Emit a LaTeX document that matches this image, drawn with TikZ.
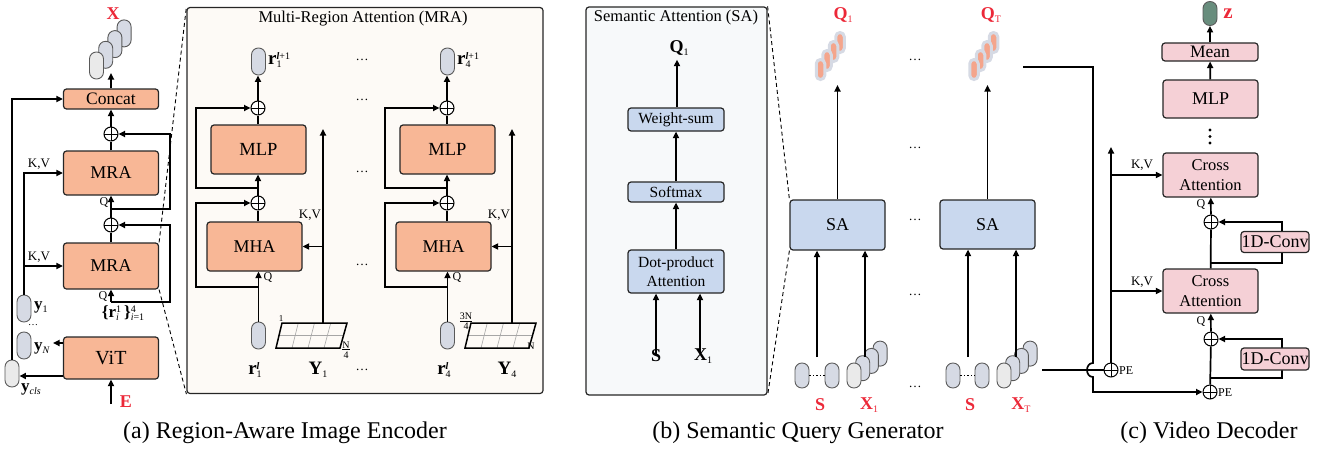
\documentclass[tikz,border=0pt]{standalone}
\usepackage{fontspec}
\setmainfont{Liberation Serif}
\usetikzlibrary{arrows.meta,calc}
\definecolor{salmon}{RGB}{248,183,150}
\definecolor{mrabg}{RGB}{253,250,246}
\definecolor{sabg}{RGB}{247,249,250}
\definecolor{lblue}{RGB}{201,216,238}
\definecolor{pinkc}{RGB}{245,208,214}
\definecolor{capg}{RGB}{214,218,228}
\definecolor{capl}{RGB}{234,234,234}
\definecolor{qor}{RGB}{244,165,140}
\definecolor{glow}{RGB}{214,218,228}
\definecolor{zgreen}{RGB}{104,141,125}
\definecolor{redl}{RGB}{236,40,56}
\newcommand{\fsz}[1]{\fontsize{#1}{#1}\selectfont}
\newcommand{\ssb}[2]{{\fontsize{10}{10}\selectfont\ooalign{\raisebox{5.5pt}{#1}\cr\raisebox{-3pt}{#2}\cr}}}
\begin{document}
\begin{tikzpicture}[x=1pt,y=-1pt,
 conn/.style={line width=1.7pt},
 arr/.style={line width=1.7pt,-{Triangle[length=6.5pt,width=6pt]}},
 boxbase/.style={draw=black!85,line width=1.2pt,rounded corners=3pt,inner sep=0pt,align=center},
 sbox/.style={boxbase,fill=salmon},
 bbox/.style={boxbase,fill=lblue},
 pbox/.style={boxbase,fill=pinkc},
 oplus/.style={circle,draw,line width=1pt,fill=white,minimum size=14pt,inner sep=0pt,
   path picture={\draw[line width=1pt] (path picture bounding box.north)--(path picture bounding box.south) (path picture bounding box.west)--(path picture bounding box.east);}},
 capsule/.style={draw=black!65,line width=0.9pt,fill=capg,minimum width=14pt,minimum height=27pt,rounded corners=6.9pt,inner sep=0pt},
 scap/.style={capsule,minimum width=14pt,minimum height=25pt,rounded corners=6.9pt},
 qcap/.style={draw=glow,line width=3pt,fill=qor,minimum width=8.5pt,minimum height=20pt,rounded corners=4.2pt,inner sep=0pt},
 redlab/.style={text=redl,font=\bfseries\fsz{18},inner sep=0pt},
 lab/.style={inner sep=0pt},
 dashl/.style={line width=0.9pt,dash pattern=on 4pt off 3pt},
 bigbox/.style={draw=black!85,line width=1.2pt,rounded corners=3pt,inner sep=0pt}
]
\useasboundingbox (0,0) rectangle (1320,450);

%================ (a) =================
\node[bigbox,fill=mrabg,minimum width=356pt,minimum height=386pt] (mrabox) at (365,200.5) {};
\node[lab,font=\fsz{16.5}] (mratitle) at (363,19) {Multi-Region Attention (MRA)};

% X stack
\foreach \i in {3,2,1}{\node[capsule] (xs\i) at ({96.5+9.2*\i},{65.5-10.7*\i}) {};}
\node[capsule,fill=capl] (xs0) at (96.5,65.5) {};
\node[redlab] (Xlab) at (113,14) {X};

\node[sbox,minimum width=95pt,minimum height=20pt,font=\fsz{17.5}] (concat) at (111,99) {Concat};
\node[oplus] (pA2) at (111,134) {};
\node[sbox,minimum width=95pt,minimum height=44pt,font=\fsz{18}] (MRA2) at (111,173) {MRA};
\node[oplus] (pA1) at (111,225) {};
\node[sbox,minimum width=95pt,minimum height=46pt,font=\fsz{18}] (MRA1) at (111,266) {MRA};
\node[sbox,minimum width=95pt,minimum height=42pt,font=\fsz{20}] (ViT) at (111,358) {ViT};

\node[capsule] (y1) at (24,308.5) {};
\node[capsule] (yN) at (24,345.5) {};
\node[capsule,fill=capl] (ycls) at (12,373.5) {};

\draw[dashl] (MRA1.north east) -- (mrabox.north west);
\draw[dashl] (MRA1.south east) -- (mrabox.south west);

\coordinate (xin) at (111,73);
\draw[arr] (concat) -- (xin);
\draw[arr] (pA2) -- (concat);
\draw[conn] (MRA2) -- (pA2);
\draw[arr] (pA1) -- (MRA2);
\draw[conn] (MRA1) -- (pA1);
\coordinate (rin) at (111,302);
\draw[arr] (rin) -- (MRA1);
\draw[arr] (rin) -- ++(59,0) |- (pA1);
\coordinate (br2) at (111,209);
\draw[arr] (br2) -- ++(59,0) |- (pA2);
\draw[arr] (ycls.north) |- (concat.west);
\draw[arr] (y1.north) |- (MRA2.west);
\draw[arr] (y1.north |- MRA1.west) -- (MRA1.west);
\coordinate (yNarr) at (53,343);
\draw[arr] ([yshift=15pt]ViT.west) -- (yNarr);
\draw[arr] ([yshift=-18pt]ViT.west) -- ([yshift=-18pt]ViT.west -| ycls.east);
\coordinate (ein) at (111,404);
\draw[arr] (ein) -- (ViT);
\node[redlab] (Elab) at (126,402) {E};

\node[lab,font=\fsz{13}] (kv2) at (39,164) {K,V};
\node[lab,font=\fsz{12}] (q2) at (104,202) {Q};
\node[lab,font=\fsz{13}] (kv1) at (39,257) {K,V};
\node[lab,font=\fsz{12}] (q1) at (103,296) {Q};
\node[lab,font=\fsz{17}] (rlab) at (123,313) {\textbf{\{r}\ssb{1}{\textit{i}}\hspace{3pt}\textbf{\}}\ssb{4}{\textit{i}=1}};
\node[lab,font=\fsz{17}] (y1lab) at (41,307) {\textbf{y}\ssb{}{1}};
\node[lab,font=\fsz{10}] (ydots) at (33,325) {…};
\node[lab,font=\fsz{17}] (yNlab) at (42,348) {\textbf{y}\ssb{}{\textit{N}}};
\node[lab,font=\fsz{17}] (yclab) at (31,389) {\textbf{y}\ssb{}{\textit{cls}}};

% MRA inner columns
\foreach \c/\d in {1/0,4/189}{
\begin{scope}[xshift=\d pt]
\node[capsule] (ro\c) at (258.5,61.5) {};
\node[lab,font=\fsz{19},anchor=west] (rol\c) at (268,60) {\textbf{r}\ssb{\textbf{\textit{l}}+1}{\c}};
\node[oplus] (pm\c) at (258,108) {};
\node[sbox,minimum width=95pt,minimum height=49pt,font=\fsz{18.5}] (mlp\c) at (258.5,149.5) {MLP};
\node[oplus] (ph\c) at (258,203) {};
\node[sbox,minimum width=95pt,minimum height=49pt,font=\fsz{18}] (mha\c) at (254.5,246.5) {MHA};
\node[capsule] (ri\c) at (258.5,335.5) {};
\node[lab,font=\fsz{19}] (ril\c) at (255,370) {\textbf{r}\ssb{\textbf{\textit{l}}}{\c}};
\node[lab,font=\fsz{19}] (Yl\c) at (318,370) {\textbf{Y}\ssb{}{\c}};
\node[lab,font=\fsz{13}] (kvm\c) at (310,215) {K,V};
\node[lab,font=\fsz{12}] (qm\c) at (268,277) {Q};
\draw[gray!70,line width=0.6pt] (298.25,323)--(292,348) (314.5,323)--(308,348) (330.75,323)--(324,348) (279,335.5)--(343.5,335.5);
\draw[line width=1.5pt] (282,323)--(347,323)--(340,348)--(276,348)--cycle;
\coordinate (gt\c) at (323,323);
\coordinate (kvt\c) at (323,129);
\coordinate (bh\c) at (258,287);
\coordinate (bm\c) at (258,188);
\end{scope}
\draw[arr] (ri\c) -- (ri\c |- mha\c.south);
\draw[conn] (ph\c |- mha\c.north) -- (ph\c);
\draw[arr] (ph\c) -- (ph\c |- mlp\c.south);
\draw[conn] (pm\c |- mlp\c.north) -- (pm\c);
\draw[arr] (pm\c) -- (pm\c |- ro\c.south);
\draw[arr] (bh\c) -- ++(-62,0) |- (ph\c);
\draw[arr] (bm\c) -- ++(-62,0) |- (pm\c);
\draw[arr] (gt\c) -- (kvt\c);
\draw[arr] (gt\c |- mha\c.east) -- (mha\c.east);
}
\node[lab,font=\fsz{9}] (g1a) at (281,319) {1};
\node[lab,font=\fsz{10},align=center] (g1b) at (346,350) {\fontsize{10}{10}\selectfont\underline{N}\\4};
\node[lab,font=\fsz{10},align=center] (g4a) at (466,321) {\fontsize{10}{10}\selectfont\underline{3N}\\4};
\node[lab,font=\fsz{10}] (g4b) at (531,346) {N};
\foreach \yy in {60,100,172,265,370}{\node[lab,font=\fsz{13}] at (362,\yy) {…};}

%================ SA box =================
\node[bigbox,fill=sabg,minimum width=181pt,minimum height=388pt] (sabox) at (676.5,201) {};
\node[lab,font=\fsz{16.5}] (satitle) at (676,18) {Semantic Attention (SA)};
\node[lab,font=\fsz{18}] (saQ) at (679,48) {\textbf{Q}\ssb{}{1}};
\node[bbox,minimum width=96pt,minimum height=23pt,font=\fsz{15.5}] (wsum) at (676,119.5) {Weight-sum};
\node[bbox,minimum width=96pt,minimum height=20pt,font=\fsz{15.5}] (smax) at (676,192) {Softmax};
\node[bbox,minimum width=96pt,minimum height=43pt,font=\fontsize{15.5}{19}\selectfont] (dotp) at (676,271.5) {Dot-product\\Attention};
\node[lab,font=\bfseries\fsz{18}] (saS) at (656,356) {S};
\node[lab,font=\fsz{18}] (saX) at (703,356) {\textbf{X}\ssb{}{1}};
\draw[arr] (wsum.north -| saQ.south) ++(-2,0) -- ([xshift=-2pt,yshift=-4pt]saQ.south);
\draw[arr] (smax) -- (wsum);
\draw[arr] (dotp) -- (smax);
\draw[arr] ([yshift=-4pt]saS.north) -- (saS.north |- dotp.south);
\draw[arr] ([xshift=-3pt,yshift=-4pt]saX.north) -- ([xshift=-3pt]saX.north |- dotp.south);

%================ (b) =================
\node[bbox,minimum width=95pt,minimum height=50pt,font=\fsz{18}] (SA1) at (837.5,225) {SA};
\node[bbox,minimum width=95pt,minimum height=49pt,font=\fsz{18}] (SAT) at (987.5,224.5) {SA};
\draw[dashl] (sabox.north east) -- (SA1.north west);
\draw[dashl] (SA1.south west) -- (sabox.south east);

\foreach \i in {3,2,1,0}{\node[qcap] (qa\i) at ({820.5+6.5*\i},{69.5-9*\i}) {};}
\foreach \i in {3,2,1,0}{\node[qcap] (qt\i) at ({974+6.5*\i},{69.5-9*\i}) {};}
\node[redlab] (Q1lab) at (843,15) {Q\ssb{}{\mdseries 1}};
\node[redlab] (QTlab) at (991,15) {Q\ssb{}{\mdseries T}};
\coordinate (q1in) at (837.5,85);
\coordinate (qTin) at (987.5,85);
\draw[arr] (SA1) -- (q1in);
\draw[arr] (SAT) -- (qTin);

\node[scap] (sa1) at (802,375.5) {};
\node[scap] (sb1) at (832,375.5) {};
\draw[line width=1pt,dash pattern=on 1.5pt off 2pt] (sa1) -- (sb1);
\foreach \i in {3,2,1}{\node[scap] (xa\i) at ({854+8.7*\i},{375.5-7.3*\i}) {};}
\node[scap,fill=capl] (xa0) at (854,375.5) {};
\node[scap] (sa2) at (953,375.5) {};
\node[scap] (sb2) at (982,375.5) {};
\draw[line width=1pt,dash pattern=on 1.5pt off 2pt] (sa2) -- (sb2);
\foreach \i in {3,2,1}{\node[scap] (xb\i) at ({1004+8.7*\i},{375.5-7.3*\i}) {};}
\node[scap,fill=capl] (xb0) at (1004,375.5) {};

\coordinate (s1in) at (817,357);
\coordinate (x1in) at (865,357);
\coordinate (s2in) at (968,357);
\coordinate (x2in) at (1016,357);
\draw[arr] (s1in) -- (s1in |- SA1.south);
\draw[arr] (x1in) -- (x1in |- SA1.south);
\draw[arr] (s2in) -- (s2in |- SAT.south);
\draw[arr] (x2in) -- (x2in |- SAT.south);

\node[redlab] (S1lab) at (820,405) {S};
\node[redlab] (X1lab) at (869,405) {X\ssb{}{\mdseries 1}};
\node[redlab] (S2lab) at (970,405) {S};
\node[redlab] (XTlab) at (1021,405) {X\ssb{}{\mdseries T}};
\foreach \yy in {60,148,220,295,387}{\node[lab,font=\fsz{13}] at (915,\yy) {…};}

%================ (c) =================
\node[oplus] (pPE1) at (1111,370) {};
\node[oplus] (pPE2) at (1210,392) {};
\node[lab,font=\fsz{12},anchor=west] (pe1) at (1119,371) {PE};
\node[lab,font=\fsz{12},anchor=west] (pe2) at (1218,393) {PE};
\coordinate (qtout) at (1023,67);
\coordinate (xtout) at (1042,370);
\draw[arr] (qtout) -- (1093,67) -- (1093,363) .. controls (1085,363) and (1085,377) .. (1093,377) |- (pPE2);
\draw[conn] (xtout) -- (pPE1);

\node[pbox,minimum width=95pt,minimum height=44pt,font=\fontsize{16.5}{20}\selectfont] (CA1) at (1210.5,291) {Cross\\Attention};
\node[pbox,minimum width=95pt,minimum height=44pt,font=\fontsize{16.5}{20}\selectfont] (CA2) at (1210.5,175) {Cross\\Attention};
\node[oplus] (pc1) at (1211,339) {};
\node[oplus] (pc2) at (1211,222) {};
\coordinate (kvtop) at (1111,147);
\draw[arr] (pPE1) -- (kvtop);
\draw[arr] (pPE1 |- CA2.west) -- (CA2.west);
\draw[arr] (pPE1 |- CA1.west) -- (CA1.west);
\node[lab,font=\fsz{13}] (kvc2) at (1142,165) {K,V};
\node[lab,font=\fsz{13}] (kvc1) at (1142,282) {K,V};
\draw[conn] (pPE2) -- (pc1);
\coordinate (cb1) at (1211,378);
\draw[arr] (cb1) -- ++(71,0) |- (pc1);
\node[pbox,minimum width=68pt,minimum height=22pt,font=\fsz{18}] (conv1) at (1275,359) {1D-Conv};
\draw[arr] (pc1) -- (CA1);
\node[lab,font=\fsz{12}] (qc1) at (1201,321) {Q};
\draw[conn] (CA1) -- (pc2);
\coordinate (cb2) at (1211,263);
\draw[arr] (cb2) -- ++(71,0) |- (pc2);
\node[pbox,minimum width=68pt,minimum height=21pt,font=\fsz{18}] (conv2) at (1275,242) {1D-Conv};
\draw[arr] (pc2) -- (CA2);
\node[lab,font=\fsz{12}] (qc2) at (1201,204) {Q};
\foreach \yy in {130,136.5,143}{\fill (1210,\yy) circle (1.7pt);}
\node[pbox,minimum width=95pt,minimum height=38pt,font=\fsz{18}] (MLPd) at (1210.5,99) {MLP};
\node[pbox,minimum width=96pt,minimum height=18pt,font=\fsz{17.5}] (Mean) at (1210,52) {Mean};
\node[capsule,fill=zgreen,minimum width=14pt,minimum height=24pt] (zc) at (1210,13.5) {};
\node[redlab,font=\bfseries\fsz{21}] (zlab) at (1228,14) {z};
\draw[arr] (MLPd) -- (Mean);
\draw[arr] (Mean) -- (zc);

%================ captions =================
\node[lab,font=\fsz{24}] (capa) at (285,433) {(a) Region-Aware Image Encoder};
\node[lab,font=\fsz{24}] (capb) at (798,433) {(b) Semantic Query Generator};
\node[lab,font=\fsz{24}] (capc) at (1209,433) {(c) Video Decoder};
\end{tikzpicture}
\end{document}
